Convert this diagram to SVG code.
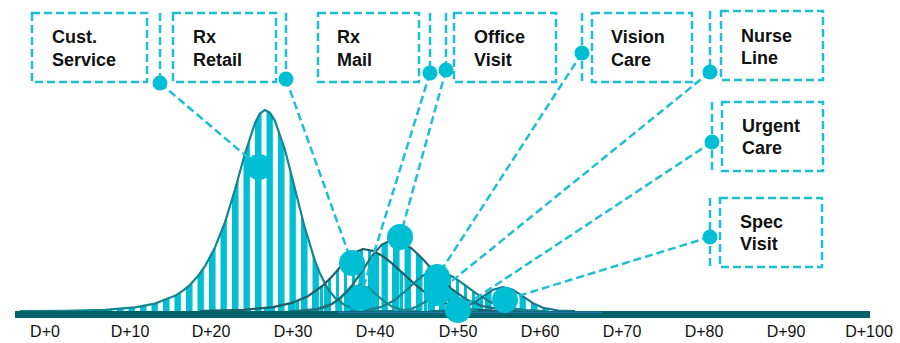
<svg xmlns="http://www.w3.org/2000/svg" width="900" height="343" viewBox="0 0 900 343">
<style>
.box{fill:#fff;stroke:#1ebfd2;stroke-width:2.5;stroke-dasharray:8 4}
.brk{fill:none;stroke:#1ebfd2;stroke-width:2.5;stroke-dasharray:8 4}
.con{fill:none;stroke:#1ebfd2;stroke-width:2.5;stroke-dasharray:8 4}
.lbl{font-family:"Liberation Sans",Arial,sans-serif;font-weight:bold;font-size:18px;fill:#111}
.ax{font-family:"Liberation Sans",Arial,sans-serif;font-size:16px;fill:#111;text-anchor:middle}
.dot{fill:#00bed3}
.crv{fill:none;stroke-width:2.2;stroke-linejoin:round}
</style>
<defs>
<pattern id="stA" patternUnits="userSpaceOnUse" x="2" y="0" width="11.5" height="343"><rect width="6.5" height="343" fill="#00bed3"/></pattern>
<pattern id="stB" patternUnits="userSpaceOnUse" x="0" y="0" width="8" height="343"><rect width="3" height="343" fill="#00bed3"/></pattern>
</defs>
<g id="curves">
<path fill="url(#stA)" d="M20,311 L65,310.8 L105,309.8 L135,307.4 L155,303.6 L175,295.8 L183,290.6 L190,284.8 L198,276.1 L205,266.2 L215,247.4 L225,222.2 L235,189.5 L245,153.5 L255,123 L260,113.3 L265,110 L270,112.8 L275,120.8 L285,150 L295,189 L305,228.4 L315,260.9 L320,273.6 L325,283.8 L330,291.8 L335,297.8 L345,305.3 L360,309.7 L375,310.8 L395,311 Z"/>
<path fill="url(#stB)" d="M200,311 L213,310.6 L243,309.8 L273,307.1 L293,302.6 L308,296.2 L323,285.5 L333,275.4 L343,263.7 L353,253.3 L363,249 L373,250.9 L383,256.3 L393,264.2 L403,273.4 L413,282.6 L423,290.9 L438,300.3 L453,306.1 L473,309.6 L493,310.7 L510,311 Z"/>
<path fill="url(#stA)" d="M290,311 L297,310.8 L317,309 L332,303.8 L342,296.6 L352,285.4 L362,271 L372,256 L382,244.4 L392,240 L402,242.3 L412,248.7 L422,258.2 L432,269 L442,279.8 L452,289.2 L467,299.8 L482,306 L502,309.7 L522,310.7 L540,311 Z"/>
<path fill="url(#stB)" d="M350,311 L365,310.2 L380,307.4 L395,299.9 L405,291.5 L415,282 L425,274.1 L435,271 L445,272.9 L455,278.1 L465,285.2 L475,292.7 L490,301.9 L505,307.3 L525,310.2 L545,311 Z"/>
<path fill="url(#stA)" d="M430,311 L448,310.5 L463,307.8 L473,303.2 L483,296.4 L493,289.8 L503,287 L513,289.8 L523,296.4 L533,303.2 L543,307.8 L558,310.5 L575,311 Z"/>
<path class="crv" stroke="#13868f" stroke-width="2.5" d="M20,311 L65,310.8 L105,309.8 L135,307.4 L155,303.6 L175,295.8 L183,290.6 L190,284.8 L198,276.1 L205,266.2 L215,247.4 L225,222.2 L235,189.5 L245,153.5 L255,123 L260,113.3 L265,110 L270,112.8 L275,120.8 L285,150 L295,189 L305,228.4 L315,260.9 L320,273.6 L325,283.8 L330,291.8 L335,297.8 L345,305.3 L360,309.7 L375,310.8 L395,311"/>
<path class="crv" stroke="#1c5f66" d="M200,311 L213,310.6 L243,309.8 L273,307.1 L293,302.6 L308,296.2 L323,285.5 L333,275.4 L343,263.7 L353,253.3 L363,249 L373,250.9 L383,256.3 L393,264.2 L403,273.4 L413,282.6 L423,290.9 L438,300.3 L453,306.1 L473,309.6 L493,310.7 L510,311"/>
<path class="crv" stroke="#1a8a95" d="M300,311 L318,309.8 L328,306.6 L336,301.4 L344,294.3 L352,287.7 L360,285 L368,287.7 L376,294.3 L384,301.4 L392,306.6 L402,309.8 L420,311"/>
<path class="crv" stroke="#1d6d78" d="M290,311 L297,310.8 L317,309 L332,303.8 L342,296.6 L352,285.4 L362,271 L372,256 L382,244.4 L392,240 L402,242.3 L412,248.7 L422,258.2 L432,269 L442,279.8 L452,289.2 L467,299.8 L482,306 L502,309.7 L522,310.7 L540,311"/>
<path class="crv" stroke="#1a8090" d="M350,311 L365,310.2 L380,307.4 L395,299.9 L405,291.5 L415,282 L425,274.1 L435,271 L445,272.9 L455,278.1 L465,285.2 L475,292.7 L490,301.9 L505,307.3 L525,310.2 L545,311"/>
<path class="crv" stroke="#1a8a95" d="M398,310.8 L410,309.1 L417,306.5 L424,302.5 L431,298.7 L438,297 L445,298.7 L452,302.5 L459,306.5 L466,309.1 L478,310.8"/>
<path class="crv" stroke="#1a7590" d="M430,311 L448,310.5 L463,307.8 L473,303.2 L483,296.4 L493,289.8 L503,287 L513,289.8 L523,296.4 L533,303.2 L543,307.8 L558,310.5 L575,311"/>
</g>
<g id="axis">
<rect x="15" y="311" width="855" height="7" fill="#01626a"/>
<line x1="337" y1="312.5" x2="602" y2="312.5" stroke="#1f73a0" stroke-width="2"/>
<text class="ax" x="45" y="337">D+0</text>
<text class="ax" x="130" y="337">D+10</text>
<text class="ax" x="211" y="337">D+20</text>
<text class="ax" x="293" y="337">D+30</text>
<text class="ax" x="375" y="337">D+40</text>
<text class="ax" x="458" y="337">D+50</text>
<text class="ax" x="540" y="337">D+60</text>
<text class="ax" x="622" y="337">D+70</text>
<text class="ax" x="704" y="337">D+80</text>
<text class="ax" x="786" y="337">D+90</text>
<text class="ax" x="869" y="337">D+100</text>
</g>
<g id="connectors">
<line class="con" x1="160" y1="83" x2="259" y2="167"/>
<line class="con" x1="286" y1="79" x2="352" y2="263"/>
<line class="con" x1="430" y1="73" x2="360" y2="298"/>
<line class="con" x1="446" y1="70" x2="400" y2="237"/>
<line class="con" x1="582" y1="53" x2="437" y2="277"/>
<line class="con" x1="710" y1="72" x2="437" y2="293"/>
<line class="con" x1="712" y1="142" x2="458" y2="310"/>
<line class="con" x1="710" y1="237" x2="505" y2="300"/>
</g>
<g id="cust-service">
<rect class="box" x="32" y="13" width="115" height="69"/>
<line class="brk" x1="160" y1="13" x2="160" y2="82"/>
<circle class="dot" cx="160" cy="83" r="7.5"/>
<circle class="dot" cx="259" cy="167" r="13"/>
<text class="lbl" x="52" y="43">Cust.</text>
<text class="lbl" x="52" y="66">Service</text>
</g>
<g id="rx-retail">
<rect class="box" x="173" y="13" width="103" height="69"/>
<line class="brk" x1="286" y1="13" x2="286" y2="79"/>
<circle class="dot" cx="286" cy="79" r="7.5"/>
<circle class="dot" cx="352" cy="263" r="13"/>
<text class="lbl" x="193" y="43">Rx</text>
<text class="lbl" x="193" y="66">Retail</text>
</g>
<g id="rx-mail">
<rect class="box" x="318" y="13" width="101" height="69"/>
<line class="brk" x1="430" y1="13" x2="430" y2="73"/>
<circle class="dot" cx="430" cy="73" r="7.5"/>
<circle class="dot" cx="360" cy="298" r="13"/>
<text class="lbl" x="337" y="43">Rx</text>
<text class="lbl" x="337" y="66">Mail</text>
</g>
<g id="office-visit">
<rect class="box" x="454" y="13" width="102" height="69"/>
<line class="brk" x1="446" y1="13" x2="446" y2="70"/>
<circle class="dot" cx="446" cy="70" r="7.5"/>
<circle class="dot" cx="400" cy="237" r="13"/>
<text class="lbl" x="474" y="43">Office</text>
<text class="lbl" x="474" y="66">Visit</text>
</g>
<g id="vision-care">
<rect class="box" x="592" y="13" width="100" height="69"/>
<line class="brk" x1="582" y1="13" x2="582" y2="82"/>
<circle class="dot" cx="582" cy="53" r="7.5"/>
<circle class="dot" cx="437" cy="277" r="13"/>
<text class="lbl" x="611" y="43">Vision</text>
<text class="lbl" x="611" y="66">Care</text>
</g>
<g id="nurse-line">
<rect class="box" x="721" y="11" width="102" height="69"/>
<line class="brk" x1="710" y1="11" x2="710" y2="72"/>
<circle class="dot" cx="710" cy="72" r="7.5"/>
<circle class="dot" cx="437" cy="293" r="13"/>
<text class="lbl" x="741" y="42">Nurse</text>
<text class="lbl" x="741" y="64">Line</text>
</g>
<g id="urgent-care">
<rect class="box" x="722" y="102" width="101" height="69"/>
<line class="brk" x1="712" y1="102" x2="712" y2="171"/>
<circle class="dot" cx="712" cy="142" r="7.5"/>
<circle class="dot" cx="458" cy="310" r="13"/>
<text class="lbl" x="742" y="132">Urgent</text>
<text class="lbl" x="742" y="154">Care</text>
</g>
<g id="spec-visit">
<rect class="box" x="720" y="198" width="102" height="69"/>
<line class="brk" x1="710" y1="198" x2="710" y2="267"/>
<circle class="dot" cx="710" cy="237" r="7.5"/>
<circle class="dot" cx="505" cy="300" r="13"/>
<text class="lbl" x="740" y="228">Spec</text>
<text class="lbl" x="740" y="250">Visit</text>
</g>
</svg>
